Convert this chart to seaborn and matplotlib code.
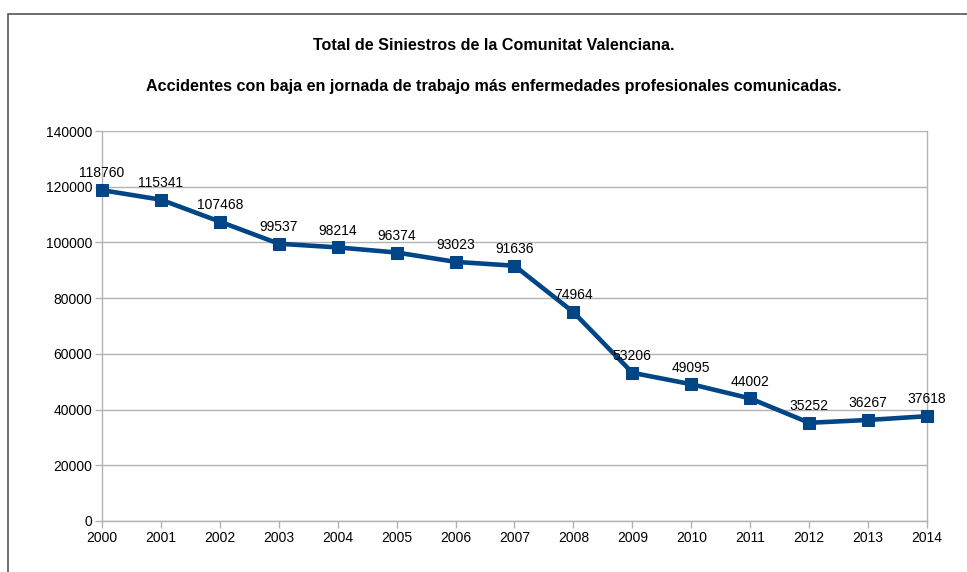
import matplotlib
matplotlib.use("Agg")
import matplotlib.pyplot as plt
import seaborn as sns
import pandas as pd
from matplotlib.patches import Rectangle

# -----------------------------
# Data
# -----------------------------
YEARS = [2000, 2001, 2002, 2003, 2004, 2005, 2006, 2007,
         2008, 2009, 2010, 2011, 2012, 2013, 2014]
SINIESTROS = [118760, 115341, 107468, 99537, 98214, 96374, 93023, 91636,
              74964, 53206, 49095, 44002, 35252, 36267, 37618]
Y_TICKS = [0, 20000, 40000, 60000, 80000, 100000, 120000, 140000]

TITLE_1 = "Total de Siniestros de la Comunitat Valenciana."
TITLE_2 = "Accidentes con baja en jornada de trabajo más enfermedades profesionales comunicadas."

LINE_COLOR = "#004586"
GRID_COLOR = "#b3b3b3"

sns.set_theme(style="white")
plt.rcParams["font.family"] = ["Liberation Sans", "DejaVu Sans"]
plt.rcParams["text.color"] = "black"

df = pd.DataFrame({"year": YEARS, "total": SINIESTROS})

fig = plt.figure(figsize=(9.67, 5.72), dpi=100)
ax = fig.add_axes([102 / 967, 1 - 521 / 572, 825 / 967, 390 / 572])

sns.lineplot(data=df, x="year", y="total", ax=ax, color=LINE_COLOR,
             linewidth=3.3, marker="s", markersize=9,
             markeredgecolor=LINE_COLOR, clip_on=False, zorder=3)

for x, y in zip(YEARS, SINIESTROS):
    ax.annotate(f"{y}", (x, y), xytext=(0, 7), textcoords="offset points",
                ha="center", va="bottom", fontsize=10, color="black")

ax.set_xlim(YEARS[0], YEARS[-1])
ax.set_ylim(Y_TICKS[0], Y_TICKS[-1])
ax.set_xticks(YEARS)
ax.set_yticks(Y_TICKS)
ax.set_xlabel("")
ax.set_ylabel("")
ax.yaxis.grid(True, color=GRID_COLOR, linewidth=1)
ax.xaxis.grid(False)
ax.set_axisbelow(True)
ax.tick_params(axis="both", labelsize=10, colors=GRID_COLOR, labelcolor="black",
               length=5, width=1, direction="out", pad=2, bottom=True, left=True)
for side in ["left", "bottom", "right"]:
    ax.spines[side].set_color(GRID_COLOR)
    ax.spines[side].set_linewidth(1)
ax.spines["top"].set_visible(False)

fig.text(494 / 967, 1 - 45 / 572, TITLE_1, ha="center", va="center",
         fontsize=11.6, fontweight="bold", color="black")
fig.text(494 / 967, 1 - 87 / 572, TITLE_2, ha="center", va="center",
         fontsize=11.6, fontweight="bold", color="black")

# outer chart frame (only top and left edges fall inside the image)
fig.patches.append(Rectangle((8 / 967, -0.1), 1.2, 1.1 - 14 / 572,
                             transform=fig.transFigure, fill=False,
                             edgecolor="#555555", linewidth=1.2))

fig.savefig("out.png", dpi=100, facecolor="white")
